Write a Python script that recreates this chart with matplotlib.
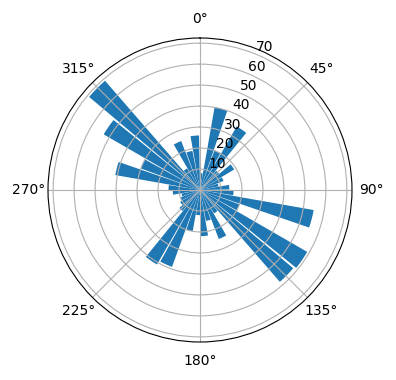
import numpy as np
import matplotlib
matplotlib.use("Agg")
import matplotlib.pyplot as plt

# direction bins (degrees, left edge of each 10 degree bin) and counts
bin_starts = np.arange(0, 360, 10)
counts = [8, 40, 20, 35, 12, 19, 12, 9, 14,
          16, 55, 20, 59, 58, 13, 25, 15, 22,
          12, 20, 39, 41, 13, 11, 10, 9, 13,
          15, 41, 30, 53, 69, 12, 25, 19, 26]

step = np.deg2rad(10)
theta = np.deg2rad(bin_starts)

fig = plt.figure(figsize=(3.96, 3.8), dpi=100)
ax = fig.add_axes([0.1212, 0.1, 0.7677, 0.8], projection="polar")
ax.set_theta_zero_location("N")
ax.set_theta_direction(-1)

ax.bar(theta, counts, width=0.9 * step, align="edge", color="C0")

fig.savefig("out.png", dpi=100)
